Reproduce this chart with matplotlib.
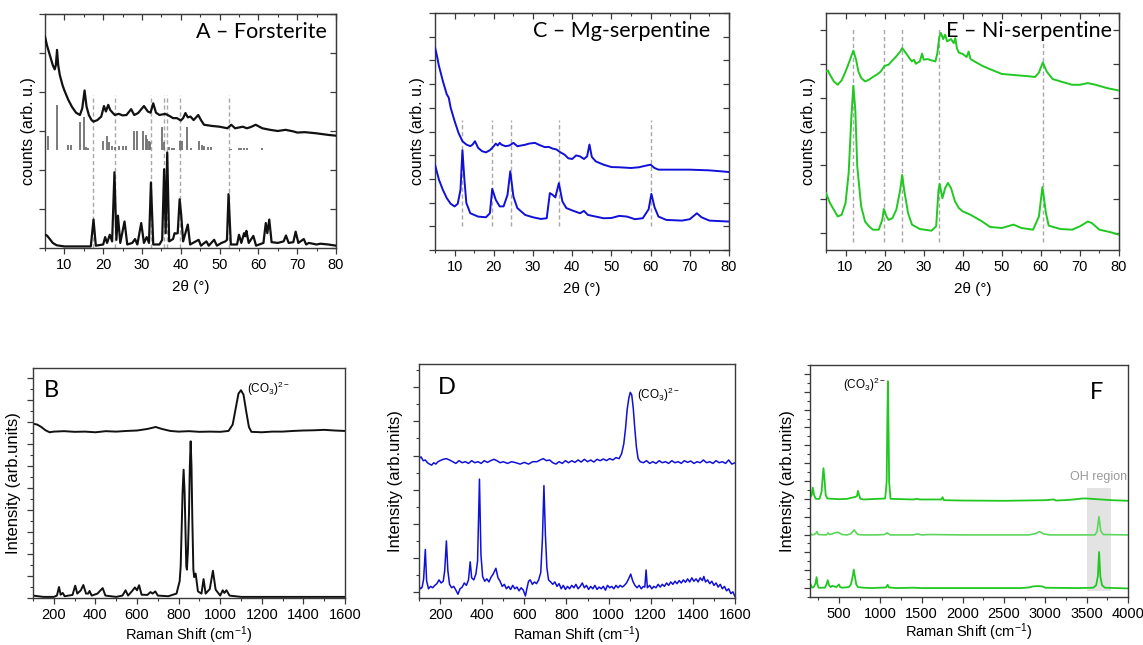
import matplotlib
matplotlib.use("Agg")
import matplotlib.pyplot as plt
from matplotlib.ticker import MultipleLocator, NullFormatter

plt.rcParams['font.family'] = ['Liberation Sans', 'DejaVu Sans']
plt.rcParams['mathtext.fontset'] = 'custom'
plt.rcParams['mathtext.rm'] = 'Liberation Sans'
plt.rcParams['mathtext.it'] = 'Liberation Sans:italic'

# ---------------- Panel A (XRD, forsterite) ----------------
A_top_x = [5, 5.5, 6, 6.5, 7, 7.5, 7.8, 8.1, 8.4, 8.8, 9.5, 10, 11, 12, 13, 14, 14.6, 15.2, 15.7, 16.3,
           17, 17.5, 18.5, 19.5, 20.2, 20.7, 21.3, 21.8, 22.5, 23, 24, 25, 26, 27.2, 28, 29, 30.5, 31.5,
           32.2, 32.9, 33.6, 34.5, 36, 37, 38, 39, 40, 40.6, 41.2, 41.8, 42.5, 43.3, 44.5, 45.2, 46, 48,
           50, 52, 53, 54, 56, 57, 58, 59.3, 61, 63, 65, 67, 69, 70, 72, 75, 78, 80]
A_top_y = [5.42, 5.2, 5.03, 4.86, 4.69, 4.58, 4.69, 5.08, 4.69, 4.44, 4.18, 4.04, 3.8, 3.61, 3.47, 3.41,
           3.58, 4.04, 3.63, 3.41, 3.28, 3.24, 3.28, 3.37, 3.64, 3.5, 3.67, 3.54, 3.46, 3.41, 3.44, 3.4,
           3.41, 3.56, 3.41, 3.46, 3.64, 3.5, 3.47, 3.71, 3.47, 3.41, 3.44, 3.39, 3.33, 3.33, 3.27, 3.33,
           3.46, 3.35, 3.37, 3.28, 3.41, 3.28, 3.16, 3.13, 3.11, 3.07, 3.16, 3.07, 3.11, 3.07, 3.1, 3.16,
           3.07, 3.03, 3.0, 3.03, 2.99, 2.96, 2.97, 2.94, 2.9, 2.88]

A_bot_x = [5, 5.5, 6, 7, 8, 10, 16.8, 17.5, 18.1, 20, 20.5, 21, 21.7, 22.3, 22.9, 23.4, 23.8, 24.4, 25.5,
           26.2, 27.5, 28.2, 28.8, 29.8, 30.5, 31.2, 31.8, 32.3, 32.9, 34.5, 35.2, 35.7, 36.1, 36.5, 37.0,
           38.0, 38.4, 38.8, 39.2, 39.7, 40.1, 40.6, 41.8, 42.4, 44.6, 45.2, 46.6, 47.2, 48.6, 49.3, 50.5,
           51.5, 51.9, 52.3, 52.9, 54.5, 55.0, 55.6, 56.3, 56.6, 56.9, 57.5, 58.7, 59.4, 61.3, 61.9, 62.3,
           62.8, 63.4, 65.0, 66.5, 67.1, 67.8, 69.0, 69.6, 70.3, 71.7, 72.3, 73.0, 75, 76, 78, 80]
A_bot_y = [0.34, 0.32, 0.26, 0.13, 0.07, 0.04, 0.04, 0.73, 0.06, 0.09, 0.28, 0.13, 0.34, 0.17, 1.94,
           0.21, 0.83, 0.13, 0.68, 0.09, 0.13, 0.23, 0.09, 0.64, 0.13, 0.28, 0.13, 1.68, 0.09, 0.09,
           0.21, 2.02, 0.38, 2.45, 0.17, 0.23, 0.38, 0.37, 0.38, 1.25, 0.85, 0.17, 0.6, 0.09, 0.21, 0.06,
           0.17, 0.06, 0.21, 0.06, 0.13, 0.17, 0.21, 1.38, 0.09, 0.09, 0.34, 0.13, 0.38, 0.3, 0.44, 0.13,
           0.31, 0.06, 0.13, 0.64, 0.38, 0.73, 0.15, 0.13, 0.17, 0.32, 0.13, 0.15, 0.42, 0.13, 0.23, 0.09,
           0.13, 0.09, 0.11, 0.09, 0.06]

A_stick_x = [5.7, 8.2, 11.0, 11.7, 14.0, 15.0, 15.6, 16.2, 19.9, 21.0, 21.6, 22.2, 23.0, 24.0, 25.0, 26.0,
             28.0, 28.6, 30.3, 31.0, 31.4, 31.8, 32.1, 35.2, 35.7, 37.0, 37.8, 38.3, 39.9, 40.4, 41.5,
             42.7, 44.8, 45.4, 46.1, 46.9, 47.7, 52.9, 54.9, 55.6, 56.4, 57.1, 60.9]
A_stick_top = [2.87, 3.66, 2.65, 2.65, 3.22, 3.35, 2.6, 2.56, 2.75, 2.87, 2.73, 2.62, 2.6, 2.62, 2.62,
               2.62, 2.99, 2.99, 2.99, 2.9, 2.8, 2.75, 2.72, 3.1, 2.72, 2.6, 2.56, 2.56, 2.75, 2.75, 3.11,
               2.56, 2.75, 2.65, 2.62, 2.58, 2.58, 2.55, 2.56, 2.56, 2.56, 2.56, 2.57]
A_stick_base = 2.52
A_dash_x = [17.3, 23.0, 32.3, 35.7, 36.5, 39.8, 52.3]

# ---------------- Panel C (XRD, Mg-serpentine) ----------------
C_top_x = [5, 5.5, 6, 7, 8, 8.5, 9, 10, 11, 12, 13, 14, 14.6, 15.2, 16, 17, 18, 19, 20, 20.5, 21, 21.5,
           22, 23, 24, 25, 26, 27, 28, 29, 30.5, 31.5, 33, 34, 35, 36, 37, 38, 39, 40, 41, 42, 43, 43.8,
           44.4, 45, 46, 48, 50, 52, 55, 57, 58, 60, 61, 62, 65, 70, 75, 78, 80]
C_top_y = [8.55, 8.19, 7.77, 7.13, 6.57, 6.43, 6.0, 5.44, 4.94, 4.59, 4.45, 4.38, 4.45, 4.59, 4.31, 4.17,
           4.12, 4.21, 4.38, 4.49, 4.41, 4.52, 4.44, 4.38, 4.41, 4.52, 4.38, 4.41, 4.44, 4.49, 4.52, 4.44,
           4.34, 4.35, 4.28, 4.24, 4.12, 4.03, 3.87, 3.84, 3.99, 3.95, 3.84, 3.95, 4.45, 3.93, 3.74, 3.6,
           3.5, 3.49, 3.46, 3.49, 3.53, 3.6, 3.46, 3.39, 3.39, 3.39, 3.36, 3.32, 3.29]
C_bot_x = [5, 6, 7, 8, 9, 10, 10.8, 11.5, 12, 12.5, 13, 14, 16, 18, 19, 19.6, 20.5, 21.5, 22.5, 23.5,
           24.2, 25, 26, 28, 30, 32, 33.5, 34.3, 35, 35.7, 36.6, 37.5, 38.5, 40, 42, 43, 44, 48, 50, 52,
           54, 56, 58, 59.5, 60.2, 61, 62, 64, 68, 70, 71.8, 73, 75, 80]
C_bot_y = [3.6, 2.97, 2.54, 2.19, 1.95, 1.84, 1.95, 2.54, 4.21, 2.97, 1.98, 1.55, 1.41, 1.38, 1.55, 2.58,
           2.12, 1.84, 1.84, 2.33, 3.32, 2.26, 1.77, 1.48, 1.38, 1.31, 1.34, 2.4, 2.33, 2.22, 2.82, 2.05,
           1.77, 1.67, 1.55, 1.65, 1.48, 1.34, 1.35, 1.44, 1.41, 1.3, 1.34, 1.72, 2.37, 1.81, 1.41, 1.27,
           1.24, 1.3, 1.55, 1.38, 1.24, 1.2]
C_dash_x = [12.0, 19.6, 24.3, 36.6, 60.2]

# ---------------- Panel E (XRD, Ni-serpentine) ----------------
E_top_x = [5, 5.5, 6, 7, 8, 9, 10, 11, 12, 12.7, 13.3, 14, 15, 16, 17, 18, 19, 20, 21, 22, 23, 24, 24.5,
           25.5, 26.5, 27, 27.5, 28, 29, 29.6, 30, 31, 32, 33, 33.5, 34, 34.4, 35, 35.5, 36, 37, 37.7,
           38.1, 38.5, 39, 40, 41, 41.5, 42, 43, 45, 47, 50, 52, 55, 57, 58.5, 59.5, 60.5, 61.5, 63, 65,
           68, 70, 72, 74, 77, 80]
E_top_y = [4.77, 4.8, 4.68, 4.48, 4.38, 4.51, 4.77, 5.07, 5.39, 5.12, 4.77, 4.58, 4.48, 4.53, 4.61, 4.68,
           4.77, 4.94, 4.97, 5.1, 5.22, 5.36, 5.46, 5.31, 5.14, 5.07, 5.12, 5.0, 5.07, 5.3, 5.12, 5.14,
           5.1, 5.07, 5.31, 5.79, 5.91, 5.73, 5.86, 5.66, 5.73, 5.61, 5.76, 5.46, 5.33, 5.29, 5.2, 5.36,
           5.14, 5.07, 4.94, 4.84, 4.7, 4.68, 4.65, 4.63, 4.61, 4.74, 5.04, 4.77, 4.55, 4.48, 4.38, 4.38,
           4.43, 4.38, 4.28, 4.21]
E_bot_x = [5, 6, 7, 8, 9, 10, 10.8, 11.5, 12, 12.5, 13, 14, 15, 16, 17, 18.5, 19.4, 19.8, 20.5, 21, 22,
           23, 24, 24.5, 25, 26, 27, 29, 32, 33.2, 33.8, 34.1, 34.8, 35.5, 36.2, 37, 38, 39, 40, 42, 45,
           47, 50, 53, 55, 58, 59.5, 60.4, 61.3, 62, 65, 68, 70, 72, 73, 75, 78, 80]
E_bot_y = [1.18, 0.89, 0.69, 0.49, 0.54, 0.89, 1.77, 3.44, 4.35, 3.64, 1.97, 0.79, 0.34, 0.2, 0.1, 0.1,
           0.39, 0.71, 0.49, 0.39, 0.44, 0.69, 1.28, 1.72, 1.28, 0.59, 0.25, 0.12, 0.07, 0.2, 1.28, 1.45,
           1.03, 1.33, 1.48, 1.33, 0.94, 0.74, 0.64, 0.54, 0.34, 0.18, 0.15, 0.25, 0.15, 0.1, 0.49, 1.36,
           0.59, 0.22, 0.12, 0.1, 0.2, 0.34, 0.3, 0.1, 0.02, -0.05]
E_dash_x = [12.0, 19.8, 24.5, 34.0, 60.5]

# ---------------- Panel B (Raman, forsterite) ----------------
B_top_x = [100, 120, 140, 160, 180, 200, 250, 300, 350, 400, 450, 500, 550, 600, 650, 690, 720, 760, 800,
           850, 900, 950, 1000, 1040, 1060, 1075, 1088, 1100, 1112, 1125, 1138, 1150, 1200, 1250, 1300,
           1350, 1400, 1450, 1500, 1550, 1600]
B_top_y = [7.92, 7.88, 7.77, 7.62, 7.53, 7.56, 7.58, 7.55, 7.56, 7.53, 7.58, 7.56, 7.59, 7.61, 7.68, 7.77,
           7.68, 7.59, 7.56, 7.58, 7.55, 7.56, 7.55, 7.59, 7.88, 8.64, 9.29, 9.44, 9.24, 8.48, 7.77, 7.55,
           7.53, 7.56, 7.56, 7.59, 7.61, 7.62, 7.64, 7.61, 7.59]
B_bot_x = [100, 150, 200, 215, 225, 233, 243, 252, 290, 303, 313, 330, 342, 355, 365, 372, 382, 410, 435,
           448, 500, 530, 545, 557, 575, 590, 600, 610, 622, 650, 665, 675, 688, 700, 750, 790, 805, 810,
           815, 819, 824, 829, 833, 837, 840, 845, 850, 854, 858, 862, 866, 871, 875, 882, 893, 910, 920,
           930, 950, 965, 978, 1000, 1012, 1020, 1030, 1045, 1100, 1600]
B_bot_y = [0.11, 0.05, 0.05, 0.11, 0.5, 0.15, 0.23, 0.08, 0.14, 0.56, 0.2, 0.35, 0.59, 0.2, 0.2, 0.32, 0.11,
           0.2, 0.45, 0.11, 0.05, 0.11, 0.35, 0.11, 0.3, 0.48, 0.35, 0.58, 0.15, 0.14, 0.27, 0.2, 0.3, 0.11,
           0.08, 0.2, 0.76, 1.44, 3.26, 4.77, 5.83, 4.77, 3.1, 1.44, 1.29, 2.2, 3.86, 5.98, 7.12, 5.98,
           3.56, 1.29, 0.95, 1.11, 0.3, 0.2, 0.86, 0.2, 0.41, 1.24, 0.38, 0.11, 0.35, 0.23, 0.35, 0.11,
           0.05, 0.05]

# ---------------- Panel D (Raman, Mg-serpentine) ----------------
D_top_x = [100, 110, 120, 130, 140, 150, 160, 170, 180, 190, 200, 215, 230, 245, 260, 275, 290, 305, 320,
           335, 350, 365, 380, 395, 410, 425, 440, 455, 470, 485, 500, 520, 540, 560, 580, 600, 620, 640,
           660, 675, 690, 705, 720, 735, 750, 765, 780, 795, 810, 825, 840, 855, 870, 885, 900, 915, 930,
           945, 960, 975, 990, 1005, 1020, 1035, 1050, 1062, 1072, 1080, 1088, 1096, 1103, 1110, 1117,
           1124, 1132, 1140, 1150, 1165, 1180, 1195, 1210, 1225, 1240, 1255, 1270, 1285, 1300, 1315,
           1330, 1345, 1360, 1375, 1390, 1405, 1420, 1435, 1450, 1465, 1480, 1495, 1510, 1525, 1540,
           1555, 1570, 1585, 1600]
D_top_y = [3.91, 3.96, 3.85, 3.87, 3.79, 3.75, 3.72, 3.79, 3.75, 3.82, 3.85, 3.89, 3.91, 3.87, 3.82, 3.77,
           3.85, 3.79, 3.82, 3.77, 3.85, 3.79, 3.82, 3.77, 3.85, 3.80, 3.85, 3.89, 3.85, 3.79, 3.82, 3.77,
           3.82, 3.79, 3.75, 3.80, 3.75, 3.82, 3.82, 3.87, 3.91, 3.85, 3.87, 3.79, 3.75, 3.82, 3.77, 3.85,
           3.79, 3.85, 3.80, 3.87, 3.81, 3.89, 3.82, 3.87, 3.81, 3.89, 3.85, 3.90, 3.85, 3.91, 3.87, 3.94,
           3.91, 4.06, 4.34, 4.77, 5.34, 5.68, 5.85, 5.77, 5.39, 4.82, 4.25, 3.91, 3.82, 3.79, 3.85, 3.77,
           3.82, 3.77, 3.85, 3.79, 3.82, 3.77, 3.85, 3.79, 3.82, 3.77, 3.85, 3.80, 3.84, 3.77, 3.82, 3.79,
           3.87, 3.79, 3.82, 3.77, 3.85, 3.79, 3.82, 3.77, 3.87, 3.75, 3.79]
D_bot_x = [100, 108, 115, 122, 130, 136, 145, 155, 165, 175, 185, 195, 205, 215, 222, 230, 237, 245, 255,
           265, 275, 285, 295, 305, 315, 325, 335, 343, 350, 360, 370, 378, 387, 394, 402, 412, 422, 432,
           442, 452, 465, 475, 485, 495, 505, 515, 525, 535, 545, 555, 565, 575, 585, 595, 605, 612, 620,
           628, 638, 648, 658, 668, 678, 686, 693, 700, 707, 715, 725, 735, 745, 755, 765, 775, 785, 795,
           805, 815, 825, 835, 845, 855, 865, 875, 885, 895, 905, 915, 925, 935, 945, 955, 965, 975, 985,
           995, 1005, 1015, 1025, 1035, 1045, 1055, 1065, 1075, 1085, 1095, 1105, 1115, 1125, 1135, 1145,
           1155, 1165, 1172, 1178, 1184, 1195, 1205, 1215, 1225, 1235, 1245, 1255, 1265, 1275, 1285, 1295,
           1305, 1315, 1325, 1335, 1345, 1355, 1365, 1375, 1385, 1395, 1405, 1415, 1425, 1435, 1445, 1452,
           1460, 1470, 1480, 1490, 1500, 1510, 1520, 1530, 1540, 1550, 1560, 1570, 1580, 1590, 1600]
D_bot_y = [0.17, 0.10, 0.15, 0.39, 1.25, 0.34, 0.10, 0.17, 0.13, 0.20, 0.25, 0.36, 0.27, 0.32, 0.63, 1.50,
           0.63, 0.23, 0.13, 0.17, 0.06, -0.06, 0.10, 0.15, 0.27, 0.20, 0.36, 0.89, 0.42, 0.36, 0.53, 0.91,
           3.31, 1.10, 0.46, 0.32, 0.39, 0.30, 0.44, 0.53, 0.70, 0.42, 0.32, 0.17, 0.23, 0.10, 0.17, 0.08,
           0.20, 0.10, 0.15, 0.04, 0.13, 0.06, -0.11, 0.10, 0.32, 0.36, 0.23, 0.30, 0.25, 0.36, 0.58, 1.58,
           3.12, 1.68, 0.72, 0.36, 0.30, 0.23, 0.30, 0.17, 0.25, 0.10, 0.20, 0.08, 0.17, 0.10, 0.20, 0.13,
           0.23, 0.10, 0.17, 0.27, 0.13, 0.20, 0.08, 0.17, 0.10, 0.20, 0.08, 0.15, 0.10, 0.17, 0.06, 0.20,
           0.13, 0.17, 0.10, 0.20, 0.13, 0.20, 0.15, 0.20, 0.27, 0.39, 0.53, 0.32, 0.20, 0.13, 0.20, 0.10,
           0.17, 0.15, 0.65, 0.13, 0.20, 0.10, 0.17, 0.13, 0.23, 0.15, 0.23, 0.17, 0.27, 0.20, 0.30, 0.23,
           0.32, 0.25, 0.34, 0.27, 0.36, 0.29, 0.39, 0.30, 0.42, 0.32, 0.39, 0.30, 0.42, 0.34, 0.46, 0.30,
           0.36, 0.25, 0.32, 0.20, 0.27, 0.15, 0.23, 0.10, 0.17, 0.04, 0.10, -0.04, 0.01, -0.13]

# ---------------- Panel F (Raman, Ni-serpentine) ----------------
F_top_x = [150, 170, 183, 200, 220, 265, 290, 302, 313, 325, 340, 360, 500, 600, 700, 720, 730, 745, 760,
           800, 1060, 1078, 1086, 1093, 1100, 1108, 1125, 1400, 1440, 1480, 1740, 1755, 1770, 2000, 2500,
           3000, 3100, 3130, 3300, 3450, 3500, 3800, 4000]
F_top_y = [10.11, 10.41, 11.26, 10.41, 10.0, 10.0, 10.78, 12.26, 13.44, 12.26, 10.41, 10.04, 9.96, 10.0,
           10.22, 10.33, 10.89, 10.41, 10.0, 9.93, 10.04, 11.89, 18.56, 23.19, 18.56, 11.89, 10.0, 9.93,
           10.0, 9.93, 9.93, 10.19, 9.85, 9.81, 9.78, 9.85, 9.93, 9.81, 9.89, 10.04, 10.04, 9.85, 9.78]
F_mid_x = [150, 170, 200, 225, 235, 250, 350, 370, 385, 420, 450, 480, 510, 540, 600, 640, 665, 685, 705,
           730, 800, 950, 1050, 1085, 1120, 1400, 1450, 1500, 1600, 2000, 2800, 2880, 2930, 2980, 3050,
           3600, 3625, 3648, 3670, 3700, 4000]
F_mid_y = [6.19, 5.96, 6.0, 6.19, 6.33, 6.0, 5.96, 6.19, 6.0, 6.07, 6.19, 6.26, 6.15, 6.0, 5.96, 6.07,
           6.3, 6.52, 6.26, 6.0, 5.96, 5.96, 6.0, 6.19, 5.96, 5.96, 6.07, 5.96, 6.0, 5.96, 5.96, 6.11, 6.33,
           6.07, 5.96, 5.96, 6.33, 8.0, 6.41, 6.0, 5.96]
F_bot_x = [150, 160, 175, 195, 215, 230, 240, 255, 330, 350, 365, 380, 400, 420, 440, 470, 500, 515, 540,
           620, 645, 665, 680, 695, 710, 730, 800, 900, 1070, 1090, 1105, 1200, 1400, 1500, 2000, 2700,
           2800, 2850, 2920, 2960, 3000, 3400, 3580, 3615, 3635, 3650, 3665, 3685, 3720, 4000]
F_bot_y = [0.56, 0.37, 0.04, 0.11, 0.48, 1.22, 0.41, 0.04, 0.04, 0.41, 0.89, 0.33, 0.11, 0.26, 0.19, 0.11,
           0.41, 0.11, 0.04, 0.11, 0.41, 1.22, 2.07, 1.22, 0.41, 0.11, 0.04, 0.0, 0.07, 0.37, 0.07, 0.0,
           0.04, 0.0, 0.0, 0.0, 0.07, 0.19, 0.22, 0.19, 0.04, 0.0, 0.04, 0.33, 1.33, 4.04, 1.33, 0.33,
           0.04, -0.04]
F_oh_span = [3500, 3790]

# ---------------- styling ----------------
BLACK = '#111111'
BLUE = '#1010d8'
GREEN = '#21c821'
LIGHTGREEN = '#5cd65c'
DASH = '#a8a8a8'
SPINE = '#3a3a3a'
TITLE_FONT = ['Lato', 'DejaVu Sans']

fig = plt.figure(figsize=(11.43, 6.45), dpi=100)
W, H = 1143, 645


def add_ax(x0, y0, x1, y1):
    return fig.add_axes([x0 / W, 1 - y1 / H, (x1 - x0) / W, (y1 - y0) / H])


def style_xrd(ax, ylim, yticks, xlabel_coord, ylabel_coord):
    ax.set_xlim(5, 80)
    ax.set_ylim(*ylim)
    ax.xaxis.set_major_locator(MultipleLocator(10))
    ax.xaxis.set_minor_locator(MultipleLocator(5))
    ax.set_yticks(yticks)
    ax.yaxis.set_major_formatter(NullFormatter())
    ax.tick_params(axis='x', which='major', direction='out', length=4, width=0.9, color=SPINE,
                   labelsize=10.5, top=False, pad=3)
    ax.tick_params(axis='x', which='minor', direction='out', length=2.5, width=0.8, color=SPINE, top=False)
    ax.tick_params(axis='y', which='major', direction='out', length=4, width=0.9, color=SPINE, right=False)
    for s in ax.spines.values():
        s.set_color(SPINE)
        s.set_linewidth(1.0)
    sy = ax.secondary_yaxis('right')
    sy.set_yticks(yticks)
    sy.yaxis.set_major_formatter(NullFormatter())
    sy.tick_params(direction='in', length=4, width=0.9, color=SPINE)
    sy.spines['right'].set_color(SPINE)
    sx = ax.secondary_xaxis('top')
    sx.xaxis.set_major_locator(MultipleLocator(10))
    sx.xaxis.set_minor_locator(MultipleLocator(5))
    sx.xaxis.set_major_formatter(NullFormatter())
    sx.tick_params(which='major', direction='in', length=4, width=0.9, color=SPINE)
    sx.tick_params(which='minor', direction='in', length=2.5, width=0.8, color=SPINE)
    sx.spines['top'].set_color(SPINE)
    ax.set_xlabel('2θ (°)', fontsize=11)
    ax.xaxis.set_label_coords(0.5, xlabel_coord)
    ax.set_ylabel('counts (arb. u.)', fontsize=11.5)
    ax.yaxis.set_label_coords(ylabel_coord, 0.5)


def style_raman(ax, xlim, xmajor, xminor, ylim, ymajor, yminor, xlabel_coord, ylabel_coord):
    ax.set_xlim(*xlim)
    ax.set_ylim(*ylim)
    ax.xaxis.set_major_locator(MultipleLocator(xmajor))
    ax.xaxis.set_minor_locator(MultipleLocator(xminor))
    ax.yaxis.set_major_locator(MultipleLocator(ymajor))
    ax.yaxis.set_minor_locator(MultipleLocator(yminor))
    ax.yaxis.set_major_formatter(NullFormatter())
    ax.tick_params(axis='both', which='major', direction='out', length=4, width=0.9, color=SPINE,
                   labelsize=10.5, pad=3)
    ax.tick_params(axis='both', which='minor', direction='out', length=2.5, width=0.8, color=SPINE)
    for s in ax.spines.values():
        s.set_color(SPINE)
        s.set_linewidth(1.0)
    ax.set_xlabel('Raman Shift (cm$^{-1}$)', fontsize=10.5)
    ax.xaxis.set_label_coords(0.5, xlabel_coord)
    ax.set_ylabel('Intensity (arb.units)', fontsize=12)
    ax.yaxis.set_label_coords(ylabel_coord, 0.5)


# ---- A ----
axA = add_ax(45, 14, 336, 248)
axA.vlines(A_dash_x, 0, 3.92, colors=DASH, linestyles=(0, (3, 2)), linewidth=1.0, zorder=1)
axA.vlines(A_stick_x, A_stick_base, A_stick_top, colors='#707070', linewidth=1.3, zorder=2)
axA.plot(A_top_x, A_top_y, color=BLACK, lw=1.6, zorder=3)
axA.plot(A_bot_x, A_bot_y, color=BLACK, lw=1.6, zorder=3)
style_xrd(axA, (0, 6), range(0, 7), -0.135, -0.031)
axA.text(0.97, 0.925, 'A – Forsterite', transform=axA.transAxes, ha='right', va='center',
         fontsize=15.5, family=TITLE_FONT)

# ---- C ----
axC = add_ax(435, 13, 729, 250)
axC.vlines(C_dash_x, 1.0, 5.5, colors=DASH, linestyles=(0, (3, 2)), linewidth=1.0, zorder=1)
axC.plot(C_top_x, C_top_y, color=BLUE, lw=1.4, zorder=3)
axC.plot(C_bot_x, C_bot_y, color=BLUE, lw=1.4, zorder=3)
style_xrd(axC, (0, 10), range(0, 11), -0.135, -0.034)
axC.text(0.935, 0.925, 'C – Mg-serpentine', transform=axC.transAxes, ha='right', va='center',
         fontsize=15.5, family=TITLE_FONT)

# ---- E ----
axE = add_ax(826, 13, 1119, 250)
axE.vlines(E_dash_x, -0.25, 6.1, colors=DASH, linestyles=(0, (3, 2)), linewidth=1.0, zorder=1)
axE.plot(E_top_x, E_top_y, color=GREEN, lw=1.4, zorder=3)
axE.plot(E_bot_x, E_bot_y, color=GREEN, lw=1.4, zorder=3)
style_xrd(axE, (-0.5, 6.5), range(0, 7), -0.135, -0.034)
axE.text(0.976, 0.925, 'E – Ni-serpentine', transform=axE.transAxes, ha='right', va='center',
         fontsize=15.5, family=TITLE_FONT, zorder=5)

# ---- B ----
axB = add_ax(33, 368, 345, 598)
axB.plot(B_top_x, B_top_y, color=BLACK, lw=1.4)
axB.plot(B_bot_x, B_bot_y, color=BLACK, lw=1.4)
style_raman(axB, (100, 1600), 200, 100, (0, 10.45), 1, 0.5, -0.115, -0.038)
axB.text(1128, 9.5, '(CO$_3$)$^{2-}$', fontsize=8.5, ha='left', va='center')
axB.text(0.035, 0.9, 'B', transform=axB.transAxes, fontsize=17, ha='left', va='center', family=TITLE_FONT)

# ---- D ----
axD = add_ax(419, 364, 735, 598)
axD.plot(D_top_x, D_top_y, color=BLUE, lw=1.1)
axD.plot(D_bot_x, D_bot_y, color=BLUE, lw=1.1)
style_raman(axD, (100, 1600), 200, 100, (-0.17, 6.68), 1, 0.5, -0.113, -0.05)
axD.text(1135, 5.78, '(CO$_3$)$^{2-}$', fontsize=8.5, ha='left', va='center')
axD.text(0.06, 0.9, 'D', transform=axD.transAxes, fontsize=17, ha='left', va='center', family=TITLE_FONT)

# ---- F ----
axF = add_ax(810, 365, 1128, 597)
axF.axvspan(F_oh_span[0], F_oh_span[1], ymin=(-0.33 + 1) / 26, ymax=(11.26 + 1) / 26,
            color='#e3e3e3', zorder=0, lw=0)
axF.plot(F_top_x, F_top_y, color=GREEN, lw=1.3)
axF.plot(F_mid_x, F_mid_y, color=LIGHTGREEN, lw=1.2)
axF.plot(F_bot_x, F_bot_y, color=GREEN, lw=1.3)
style_raman(axF, (150, 4000), 500, 250, (-1, 25), 2, 1, -0.105, -0.047)
axF.text(1065, 22.8, '(CO$_3$)$^{2-}$', fontsize=8.5, ha='right', va='center')
axF.text(3640, 12.4, 'OH region', fontsize=9, ha='center', va='center', color='#999999')
axF.text(0.9, 0.88, 'F', transform=axF.transAxes, fontsize=17, ha='center', va='center', family=TITLE_FONT)

fig.savefig('out.png', dpi=100)
